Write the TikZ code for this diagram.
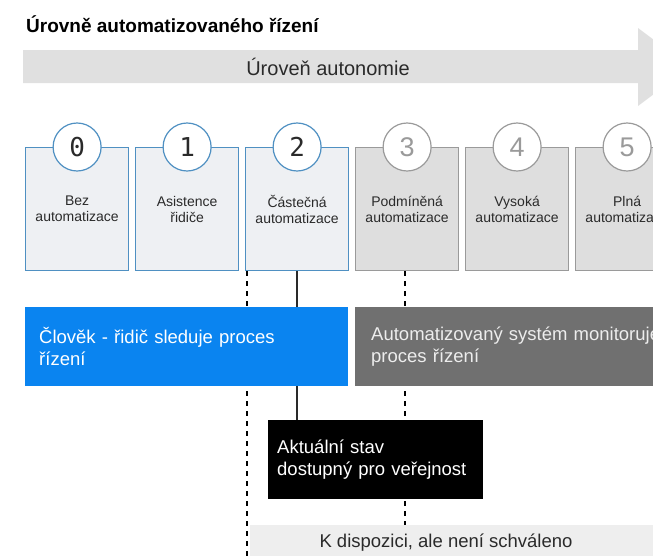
\documentclass[tikz,border=0pt]{standalone}
\usepackage{fontspec}
\setmainfont{Liberation Sans}
\newfontfamily\digitfont{DejaVu Sans Mono}
\usetikzlibrary{backgrounds}
\definecolor{lvlblue}{HTML}{4F90C2}
\definecolor{lvlfill}{HTML}{EEF0F3}
\definecolor{lvlgray}{HTML}{9A9A9A}
\definecolor{lvlgrayfill}{HTML}{DEDEDE}
\definecolor{humanblue}{HTML}{0A84F0}
\definecolor{sysgray}{HTML}{707070}
\definecolor{axisgray}{HTML}{E0E0E0}
\definecolor{availgray}{HTML}{EEEEEE}
\definecolor{ink}{HTML}{2A2A2A}
\begin{document}
\begin{tikzpicture}[x=1pt,y=-1pt]
\tikzstyle{every node}+=[inner sep=0pt, text=ink]
\tikzstyle{lvl}=[draw=lvlblue, fill=lvlfill, line width=1.2pt, anchor=north west, minimum width=103pt, minimum height=123pt, align=center, font=\fontsize{14}{16}\selectfont]
\tikzstyle{lvloff}=[lvl, draw=lvlgray, fill=lvlgrayfill]
\tikzstyle{num}=[circle, draw=lvlblue, fill=white, line width=1.2pt, minimum size=48pt, font=\digitfont\fontsize{26}{26}\selectfont]
\tikzstyle{numoff}=[num, draw=lvlgray, text=lvlgray, font=\fontsize{27}{27}\selectfont]
\tikzstyle{wide}=[anchor=north west, minimum height=79pt, align=left, inner xsep=14pt, text=white, font=\fontsize{18.5}{22}\selectfont]
\tikzstyle{guide}=[line width=1.3pt, dash pattern=on 5pt off 5pt]
\useasboundingbox (0,0) rectangle (653,555);
\clip (0,0) rectangle (653,555);
\fill[axisgray] (23,50) -- (638,50) -- (638,28) -- (690,67) -- (638,106) -- (638,83) -- (23,83) -- cycle;
\node[font=\bfseries\fontsize{19}{19}\selectfont, anchor=base west, text=black] (title) at (26,32) {Úrovně automatizovaného řízení};
\node[font=\fontsize{20}{20}\selectfont] (axis) at (328,67) {Úroveň autonomie};
\node[lvl] (l0) at (25,147) {Bez\\automatizace};
\node[lvl] (l1) at (135,147) {Asistence\\řidiče};
\node[lvl] (l2) at (245,147) {Částečná\\automatizace};
\node[lvloff] (l3) at (355,147) {Podmíněná\\automatizace};
\node[lvloff] (l4) at (465,147) {Vysoká\\automatizace};
\node[lvloff] (l5) at (575,147) {Plná\\automatizace};
\node[num] (c0) at (l0.north) {0};
\node[num] (c1) at (l1.north) {1};
\node[num] (c2) at (l2.north) {2};
\node[numoff] (c3) at (l3.north) {3};
\node[numoff] (c4) at (l4.north) {4};
\node[numoff] (c5) at (l5.north) {5};
\node[wide, fill=humanblue, text width=295pt] (human) at (25,307) {Člověk - řidič sleduje proces\\řízení};
\node[wide, fill=sysgray, text width=320pt, inner xsep=16pt, text=white!93!black] (system) at (355,307) {Automatizovaný systém monitoruje\\proces řízení};
\node[wide, fill=black, text width=197pt, inner xsep=9pt] (actual) at (268,420) {Aktuální stav\\dostupný pro veřejnost};
\node[fill=availgray, anchor=north west, minimum width=420pt, minimum height=40pt] (avail) at (250,525) {};
\node[font=\fontsize{18.5}{22}\selectfont] (availtext) at (446,543) {K dispozici, ale není schváleno};
\begin{scope}[on background layer]
\draw[guide] ([xshift=2pt]l2.south west) -- ([xshift=2pt]l2.south west |- avail.south);
\draw[line width=1.3pt, draw=ink] (l2.south) -- (l2.south |- actual.north);
\draw[guide] ([xshift=-2pt]l3.south) -- ([xshift=-2pt]l3.south |- avail.north);
\end{scope}
\end{tikzpicture}
\end{document}
